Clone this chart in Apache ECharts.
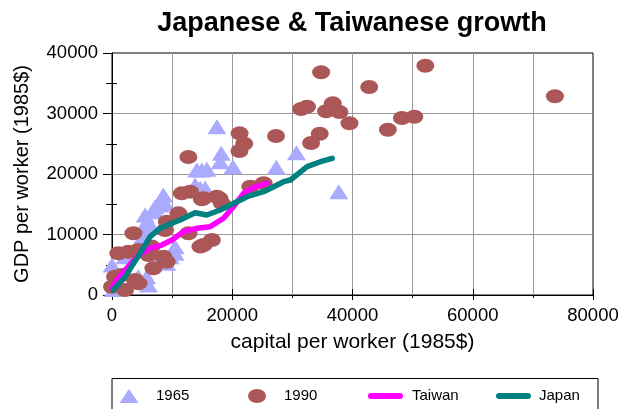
<!DOCTYPE html>
<html>
<head>
<meta charset="utf-8">
<script src="https://cdn.jsdelivr.net/npm/echarts@6/dist/echarts.min.js"></script>
<style>html,body{margin:0;padding:0;background:#fff;}#c{width:620px;height:409px;}</style>
</head>
<body>
<div id="c"></div>
<script>
// capital per worker (x), GDP per worker (y)
const y1965 = [
  [17450,27820],[18170,23420],[18000,22040],[20110,21210],[14950,20660],[15780,20780],
  [27330,21100],[30670,23520],[37720,17080],[14110,20660],[13830,18180],[14670,17630],
  [15500,17630],[8550,16530],[8830,15150],[8000,14880],[7170,14600],[7170,13770],
  [5500,13220],[5780,12120],[6610,11290],[5500,10740],[4950,9370],[10500,7980],
  [10500,6890],[9670,6330],[9110,5240],[7170,5500],[5780,3020],[4390,3020],
  [5500,2480],[6050,1650],[0,4960],[500,3000],[300,1800],[900,2400],[200,900],[2170,6330]
];
const y1990 = [
  [34780,36810],[52110,37900],[42780,34380],[73670,32840],[32440,31120],[31450,30740],
  [36720,31680],[35610,30360],[37830,30250],[39500,28380],[45880,27320],[48220,29260],
  [50280,29470],[34550,26660],[33110,25120],
  [21220,26720],[27280,26280],[22000,25000],[21200,23800],[12700,22800],
  [14950,15820],[17830,15980],[23000,17900],[25220,18460],
  [11610,16800],[13000,17080],[15220,15980],[17450,16250],[18280,15150],
  [11050,13500],[9110,12120],[8830,10740],[3560,10200],[12720,10200],
  [15220,8260],[16610,9090],[14700,8000],
  [8550,6330],[9110,5500],[6600,8000],
  [1060,6890],[2720,7160],[4390,7440],[6050,6610],[6890,4410],
  [500,3030],[1610,3310],[3830,2480],[4390,1930],[0,1370],[2170,830]
];
const taiwan = [
  [0,1110],[780,2480],[2170,4130],[4120,6330],[6330,7720],[8280,8260],[9950,9090],
  [11880,10460],[14120,11020],[16330,11290],[18550,12680],[20220,14600],[21880,16810],
  [23550,17800],[25780,18460]
];
const japan = [
  [220,830],[2170,3020],[4670,6890],[6330,9640],[8000,11020],[9950,11850],[11330,12400],
  [13830,13600],[15780,13220],[18000,14050],[20780,15420],[22450,16250],[25220,17070],
  [26880,17900],[28550,18730],[29670,19010],[32450,21210],[34670,22030],[36620,22600]
];
const xTicks = [0, 20000, 40000, 60000, 80000];
const yTicks = [0, 10000, 20000, 30000, 40000];

const FONT = "'Liberation Sans', Arial, Helvetica, sans-serif";
const GRID_C = '#999';
const chart = echarts.init(document.getElementById('c'), null, {renderer: 'canvas'});

function legendFor(name, icon, left, w, h, pad) {
  return {
    data: [{name: name, icon: icon}],
    left: left, top: 388.5, padding: 0, itemGap: 0,
    itemWidth: w, itemHeight: h, selectedMode: false,
    textStyle: {fontFamily: FONT, fontSize: 15, color: '#000', padding: [0, 0, 0, pad]}
  };
}
const lineIcon = 'path://M3,0 H32 A3,3 0 0,1 32,6 H3 A3,3 0 0,1 3,0 Z';
const ellipseIcon = 'path://M0,7 A9,7 0 1,1 18,7 A9,7 0 1,1 0,7 Z';
const plain = v => String(v);

chart.setOption({
  animation: false,
  backgroundColor: '#fff',
  title: {
    text: 'Japanese & Taiwanese growth',
    left: 352, top: 10, textAlign: 'center', padding: 0,
    textStyle: {fontFamily: FONT, fontSize: 27, fontWeight: 'bold', color: '#000'}
  },
  graphic: [{
    type: 'rect', left: 109.5, top: 376,
    shape: {width: 486, height: 60},
    style: {fill: 'none', stroke: '#000', lineWidth: 1}
  }],
  legend: [
    legendFor('1965', 'triangle', 119.5, 19, 14, 12.5),
    legendFor('1990', ellipseIcon, 248, 18, 14, 13),
    legendFor('Taiwan', lineIcon, 368, 35, 6, 4),
    legendFor('Japan', lineIcon, 496, 35, 6, 3)
  ],
  grid: {left: 112, top: 53, right: 27, bottom: 114, show: true, borderColor: '#000', borderWidth: 1,
         containLabel: false, outerBoundsMode: 'none'},
  xAxis: [{
    type: 'value', min: xTicks[0], max: xTicks[xTicks.length - 1], interval: xTicks[1] - xTicks[0],
    position: 'bottom',
    name: 'capital per worker (1985$)', nameLocation: 'middle', nameGap: 37,
    nameTextStyle: {fontFamily: FONT, fontSize: 21, color: '#000'},
    axisLine: {show: true, lineStyle: {color: '#000', width: 1}},
    axisTick: {show: true, length: 5, lineStyle: {color: '#000'}},
    minorTick: {show: true, splitNumber: 2, length: 3, lineStyle: {color: '#000'}},
    splitLine: {show: true, showMinLine: false, showMaxLine: false, lineStyle: {color: GRID_C, width: 1}},
    minorSplitLine: {show: true, lineStyle: {color: GRID_C, width: 1}},
    axisLabel: {fontFamily: FONT, fontSize: 18.5, color: '#000', margin: 11, formatter: plain, hideOverlap: false}
  }, {
    type: 'value', min: xTicks[0], max: xTicks[xTicks.length - 1], interval: xTicks[1] - xTicks[0],
    position: 'bottom',
    axisLine: {show: false}, axisLabel: {show: false}, splitLine: {show: false},
    axisTick: {show: true, inside: true, length: 6, lineStyle: {color: '#000'}}
  }],
  yAxis: [{
    type: 'value', min: yTicks[0], max: yTicks[yTicks.length - 1], interval: yTicks[1] - yTicks[0],
    position: 'left',
    name: 'GDP per worker (1985$)', nameLocation: 'middle', nameGap: 80,
    nameTextStyle: {fontFamily: FONT, fontSize: 20, color: '#000'},
    axisLine: {show: true, lineStyle: {color: '#000', width: 1}},
    axisTick: {show: true, length: 9, lineStyle: {color: '#000'}},
    minorTick: {show: true, splitNumber: 2, length: 6, lineStyle: {color: '#000'}},
    splitLine: {show: true, showMinLine: false, showMaxLine: false, lineStyle: {color: GRID_C, width: 1}},
    axisLabel: {fontFamily: FONT, fontSize: 18.5, color: '#000', margin: 14, formatter: plain}
  }, {
    type: 'value', min: yTicks[0], max: yTicks[yTicks.length - 1], interval: yTicks[1] - yTicks[0],
    position: 'left', offset: 0,
    axisLine: {show: false}, axisLabel: {show: false}, splitLine: {show: false},
    axisTick: {show: false, inside: true},
    minorTick: {show: true, splitNumber: 2, length: 5, lineStyle: {color: '#000'}}
  }],
  series: [{
    name: '1965', type: 'scatter', data: y1965, symbol: 'triangle', symbolSize: [19, 15],
    itemStyle: {color: '#aaaaff', opacity: 1}, z: 2
  }, {
    name: '1990', type: 'scatter', data: y1990, symbol: 'circle', symbolSize: [18, 14],
    itemStyle: {color: '#ab5757', opacity: 1}, z: 3
  }, {
    name: 'Taiwan', type: 'line', data: taiwan, showSymbol: false, symbol: 'none',
    itemStyle: {color: '#ff00ff'},
    lineStyle: {color: '#ff00ff', width: 5.5, cap: 'round', join: 'round'}, z: 4
  }, {
    name: 'Japan', type: 'line', data: japan, showSymbol: false, symbol: 'none',
    itemStyle: {color: '#008080'},
    lineStyle: {color: '#008080', width: 5.5, cap: 'round', join: 'round'}, z: 5
  }]
});
</script>
</body>
</html>
